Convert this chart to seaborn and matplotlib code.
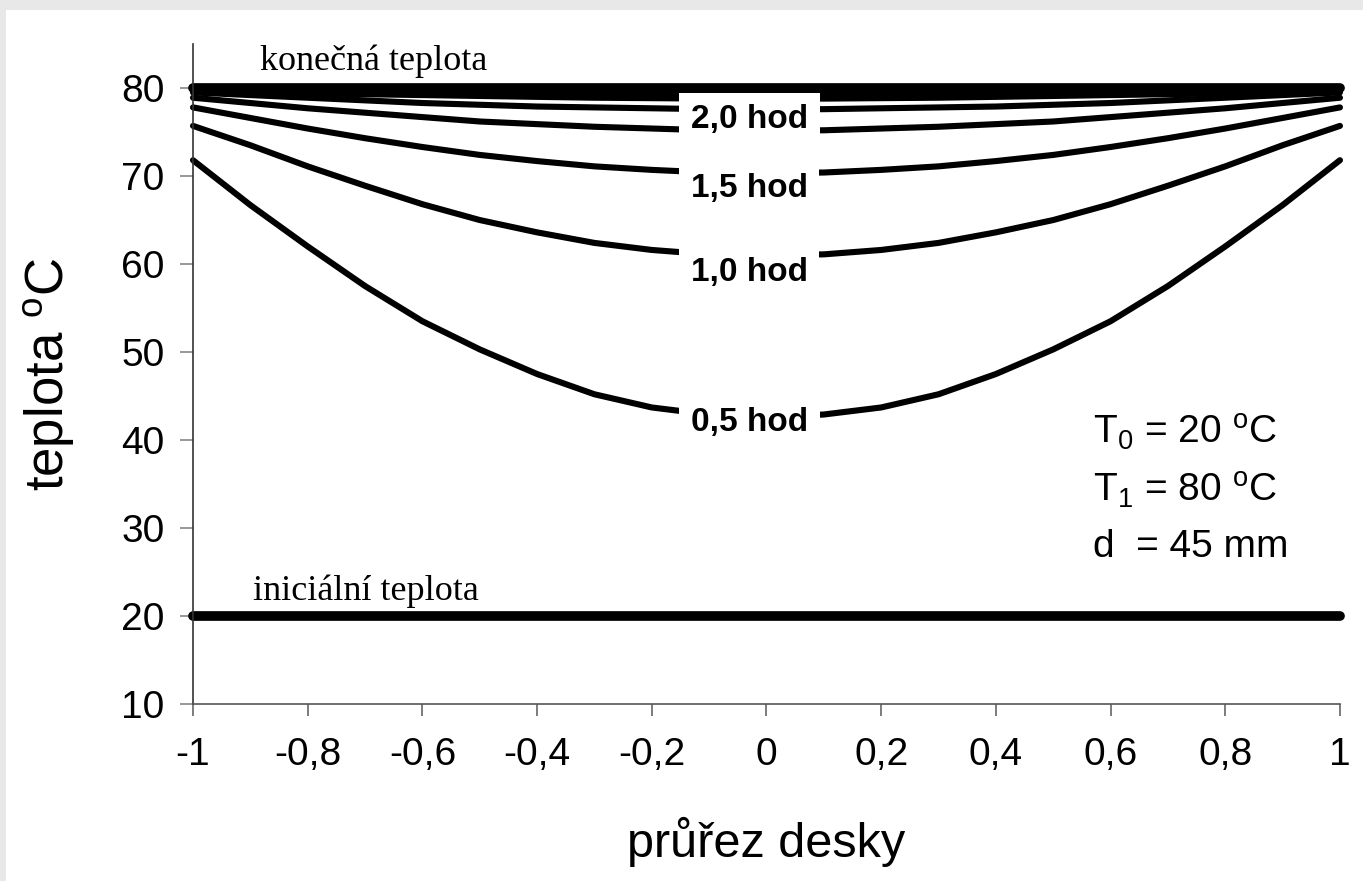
import numpy as np
import pandas as pd
import matplotlib
matplotlib.use("Agg")
import matplotlib.pyplot as plt
from matplotlib.patches import Rectangle
import seaborn as sns

# ── data ──────────────────────────────────────────────────────────────────────
X = [-1.0, -0.9, -0.8, -0.7, -0.6, -0.5, -0.4, -0.3, -0.2, -0.1, 0.0,
     0.1, 0.2, 0.3, 0.4, 0.5, 0.6, 0.7, 0.8, 0.9, 1.0]
T_05 = [71.8, 66.7, 62.0, 57.5, 53.5, 50.3, 47.5, 45.2, 43.7, 42.9, 42.6,
        42.9, 43.7, 45.2, 47.5, 50.3, 53.5, 57.5, 62.0, 66.7, 71.8]
T_10 = [75.7, 73.5, 71.1, 68.9, 66.8, 65.0, 63.6, 62.4, 61.6, 61.1, 61.0,
        61.1, 61.6, 62.4, 63.6, 65.0, 66.8, 68.9, 71.1, 73.5, 75.7]
T_15 = [77.8, 76.6, 75.4, 74.3, 73.3, 72.4, 71.7, 71.1, 70.7, 70.4, 70.35,
        70.4, 70.7, 71.1, 71.7, 72.4, 73.3, 74.3, 75.4, 76.6, 77.8]
T_20 = [78.9, 78.3, 77.7, 77.2, 76.7, 76.2, 75.9, 75.6, 75.4, 75.2, 75.2,
        75.2, 75.4, 75.6, 75.9, 76.2, 76.7, 77.2, 77.7, 78.3, 78.9]
T_25 = [79.5, 79.2, 78.9, 78.6, 78.3, 78.1, 77.9, 77.8, 77.7, 77.6, 77.6,
        77.6, 77.7, 77.8, 77.9, 78.1, 78.3, 78.6, 78.9, 79.2, 79.5]
T_30 = [79.7, 79.6, 79.4, 79.3, 79.2, 79.1, 79.0, 78.9, 78.85, 78.8, 78.8,
        78.8, 78.85, 78.9, 79.0, 79.1, 79.2, 79.3, 79.4, 79.6, 79.7]
T_35 = [79.9, 79.8, 79.7, 79.65, 79.6, 79.55, 79.5, 79.45, 79.4, 79.4, 79.4,
        79.4, 79.4, 79.45, 79.5, 79.55, 79.6, 79.65, 79.7, 79.8, 79.9]
T_FINAL = [80.0] * len(X)
T_INIT = [20.0] * len(X)

CURVES = [T_05, T_10, T_15, T_20, T_25, T_30, T_35]
HOD_LABELS = ["0,5 hod", "1,0 hod", "1,5 hod", "2,0 hod"]
HOD_POS = [(-0.03, 42.0), (-0.03, 59.0), (-0.03, 68.6), (-0.03, 76.4)]

XTICKS = [-1, -0.8, -0.6, -0.4, -0.2, 0, 0.2, 0.4, 0.6, 0.8, 1]
XTICKLABELS = ["-1", "-0,8", "-0,6", "-0,4", "-0,2", "0", "0,2", "0,4", "0,6", "0,8", "1"]
YTICKS = [10, 20, 30, 40, 50, 60, 70, 80]

# ── style ─────────────────────────────────────────────────────────────────────
sns.set_style("ticks")
plt.rcParams["font.family"] = ["Liberation Sans", "DejaVu Sans"]
plt.rcParams["text.color"] = "black"
plt.rcParams["axes.labelcolor"] = "black"

fig = plt.figure(figsize=(13.63, 8.81), dpi=100, facecolor="#e8e8e8")
fig.patches.append(Rectangle((6 / 1363, 0), 1, 1 - 10 / 881, transform=fig.transFigure,
                             facecolor="white", edgecolor="none", zorder=-10))
ax = fig.add_axes([0.1416, 0.2009, 0.8415, 0.7491])
ax.set_facecolor("white")

# ── lines ─────────────────────────────────────────────────────────────────────
for vals, lw in [(T_INIT, 7), (T_FINAL, 7)] + [(c, 4.4) for c in CURVES]:
    sns.lineplot(x=X, y=vals, color="black", linewidth=lw, ax=ax,
                 solid_capstyle="round", solid_joinstyle="round", clip_on=False)

for txt, (tx, ty) in zip(HOD_LABELS, HOD_POS):
    ax.text(tx, ty, txt, ha="center", va="center", fontsize=24, fontweight="bold",
            bbox=dict(boxstyle="square,pad=0.35", facecolor="white", edgecolor="none"),
            zorder=5)

ax.text(-0.883, 82.05, "konečná teplota", fontsize=26, family="Liberation Serif",
        va="baseline", ha="left")
ax.text(-0.895, 21.8, "iniciální teplota", fontsize=26, family="Liberation Serif",
        va="baseline", ha="left")

ax.text(0.57, 39.6, r"T$_\mathregular{0}$ = 20 $^\mathregular{o}$C", fontsize=28, va="baseline")
ax.text(0.57, 33.0, r"T$_\mathregular{1}$ = 80 $^\mathregular{o}$C", fontsize=28, va="baseline")
ax.text(0.57, 26.7, "d  = 45 mm", fontsize=28, va="baseline")

# ── axes ──────────────────────────────────────────────────────────────────────
ax.set_xlim(-1, 1)
ax.set_ylim(10, 85)
ax.set_xticks(XTICKS)
ax.set_xticklabels(XTICKLABELS)
ax.set_yticks(YTICKS)
ax.tick_params(axis="x", direction="out", length=8.6, width=1.2, color="#666666",
               labelcolor="black", pad=15, labelsize=28, bottom=True)
ax.tick_params(axis="y", direction="out", length=9.4, width=1.2, color="#888888",
               labelcolor="black", pad=11, labelsize=28, left=True)
sns.despine(ax=ax, top=True, right=True)
ax.spines["left"].set_color("#333333")
ax.spines["left"].set_linewidth(1.2)
ax.spines["bottom"].set_color("#555555")
ax.spines["bottom"].set_linewidth(1.2)

ax.set_xlabel("průřez desky", fontsize=35, labelpad=32)
ax.set_ylabel(r"teplota $^\mathregular{o}$C", fontsize=38, labelpad=32)

fig.savefig("out.png", dpi=100, facecolor=fig.get_facecolor())
